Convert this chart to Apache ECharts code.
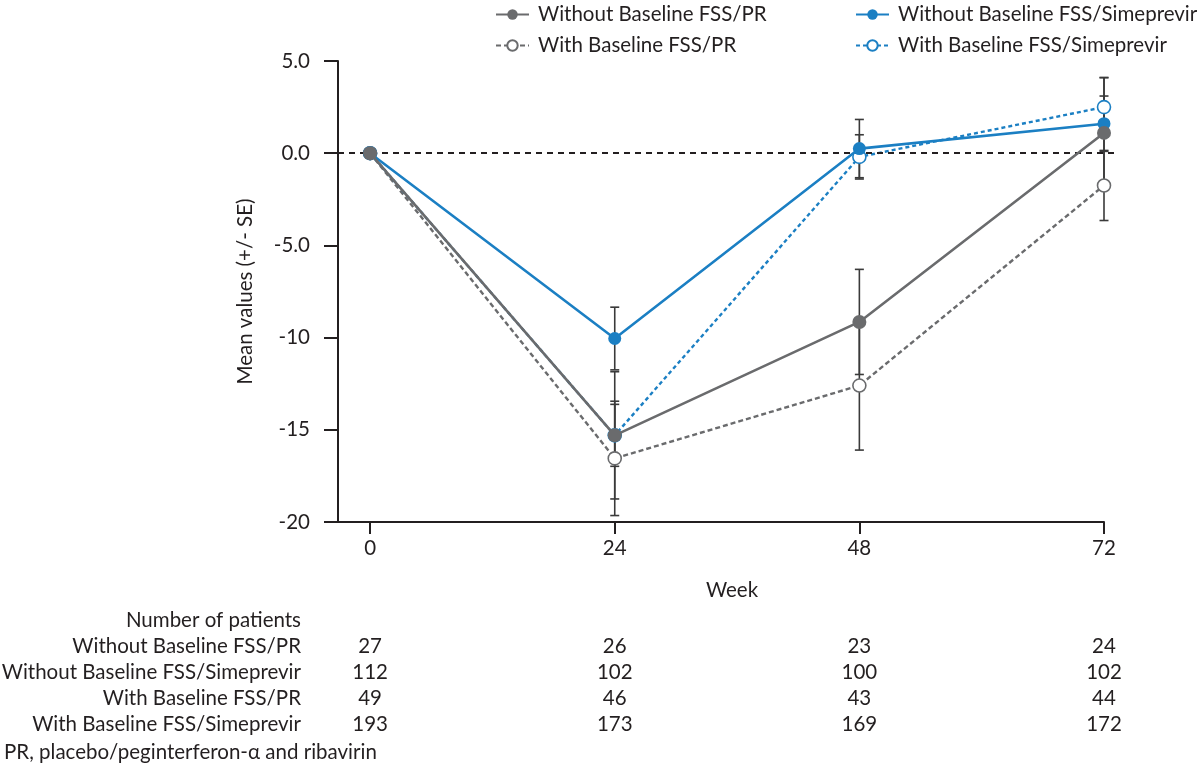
<!DOCTYPE html>
<html><head><meta charset="utf-8">
<script src="https://cdn.jsdelivr.net/npm/echarts@6/dist/echarts.min.js"></script>
<style>html,body{margin:0;padding:0;background:#fff}#c{width:1200px;height:764px}</style>
</head><body><div id="c"></div>
<script>
const FONT = 'Lato';
const FS = 20.5;
const weeks = [0, 24, 48, 72];
const tickWeeks = [0, 24, 48, 72];
const names = ['Without Baseline FSS/PR', 'With Baseline FSS/PR', 'Without Baseline FSS/Simeprevir', 'With Baseline FSS/Simeprevir'];
// means
const woPR  = [0, -15.3, -9.15, 1.1];
const wPR   = [0, -16.55, -12.6, -1.75];
const woSim = [0, -10.05, 0.25, 1.6];
const wSim  = [0, -15.3, -0.2, 2.5];
// standard errors
const woPRse  = [0, 3.45, 2.85, 3.0];
const wPRse   = [0, 3.1, 3.5, 1.9];
const woSimse = [0, 1.7, 1.58, 1.5];
const wSimse  = [0, 1.68, 1.2, 1.6];
// number of patients table
const tableTitle = 'Number of patients';
const nWoPR  = [27, 26, 23, 24];
const nWoSim = [112, 102, 100, 102];
const nWPR   = [49, 46, 43, 44];
const nWSim  = [193, 173, 169, 172];
const footnote = 'PR, placebo/peginterferon-\u03b1 and ribavirin';

const GRAY = '#6a6b6d', BLUE = '#1b7fc3', EB = '#3a3a3a';

function pts(vals){ return weeks.map((w,i)=>[w, vals[i]]); }
function ebData(vals, se){ return weeks.map((w,i)=>[w, vals[i]-se[i], vals[i]+se[i]]).filter((d,i)=>se[i]>0); }
function ebSeries(vals, se){
  return {
    type:'custom', xAxisIndex:0, yAxisIndex:0, z:1, silent:true,
    data: ebData(vals, se),
    renderItem: function(params, api){
      const x = api.value(0);
      const lo = api.coord([x, api.value(1)]);
      const hi = api.coord([x, api.value(2)]);
      const hw = 4.5;
      const st = {stroke: EB, lineWidth: 1.6, fill: null};
      return {type:'group', children:[
        {type:'line', shape:{x1:lo[0], y1:lo[1], x2:hi[0], y2:hi[1]}, style:st},
        {type:'line', shape:{x1:lo[0]-hw, y1:lo[1], x2:lo[0]+hw, y2:lo[1]}, style:st},
        {type:'line', shape:{x1:hi[0]-hw, y1:hi[1], x2:hi[0]+hw, y2:hi[1]}, style:st}
      ]};
    }
  };
}

const chart = echarts.init(document.getElementById('c'), null, {renderer:'canvas'});
const txt = {fontFamily: FONT, fontSize: FS, color: '#231f20'};
const ltxt = {fontFamily: FONT, fontSize: FS, color: '#231f20', padding:[0,0,0,4]};
const option = {
  animation:false,
  textStyle:{fontFamily:FONT},
  grid:[
    {left:338, top:61, right:96, bottom:242, containLabel:false},
    {left:338, top:61, right:82, bottom:242, containLabel:false}
  ],
  legend:[
    {orient:'vertical', left:495, top:4, padding:0, itemWidth:33, itemHeight:13, itemGap:10,
     data:[names[0], names[1]], textStyle:ltxt},
    {orient:'vertical', left:855, top:4, padding:0, itemWidth:33, itemHeight:13, itemGap:10,
     data:[names[2], names[3]], textStyle:ltxt}
  ],
  xAxis:[
    {type:'value', gridIndex:0, min:-3.15, max:72,
     name:'Week', nameLocation:'middle', nameGap:58,
     nameTextStyle:Object.assign({}, txt, {padding:[0,0,0,22]}),
     axisLine:{show:true, onZero:false, lineStyle:{color:'#231f20', width:2}},
     axisTick:{show:true, length:12, inside:false, customValues:tickWeeks, lineStyle:{color:'#231f20', width:2}},
     axisLabel:Object.assign({show:true, margin:16, customValues:tickWeeks}, txt),
     splitLine:{show:false}},
    {type:'value', gridIndex:1, min:0, max:1, show:false}
  ],
  yAxis:[
    {type:'value', gridIndex:0, min:-20, max:5, interval:5,
     name:'Mean values (+/- SE)', nameLocation:'middle', nameGap:82, nameRotate:90,
     nameTextStyle:txt,
     axisLine:{show:true, onZero:false, lineStyle:{color:'#231f20', width:2}},
     axisTick:{show:true, length:14, lineStyle:{color:'#231f20', width:2}},
     axisLabel:Object.assign({margin:28, formatter:v=> Math.abs(v)<10 ? v.toFixed(1) : String(v)}, txt),
     splitLine:{show:false}},
    {type:'value', gridIndex:1, min:-20, max:5, show:false}
  ],
  series:[
    {type:'line', xAxisIndex:1, yAxisIndex:1, data:[], silent:true, z:0,
     markLine:{silent:true, symbol:'none', label:{show:false},
       lineStyle:{color:'#231f20', type:[6,5], width:1.8},
       data:[{yAxis:0}]}},
    ebSeries(woPR, woPRse), ebSeries(wPR, wPRse), ebSeries(woSim, woSimse), ebSeries(wSim, wSimse),
    {name:names[1], type:'line', data:pts(wPR), z:3, symbol:'circle', symbolSize:13,
     lineStyle:{color:GRAY, width:2.4, type:[5,3]}, itemStyle:{color:'#fff', borderColor:GRAY, borderWidth:1.6}},
    {name:names[3], type:'line', data:pts(wSim), z:4, symbol:'circle', symbolSize:13,
     lineStyle:{color:BLUE, width:2.4, type:[4,3]}, itemStyle:{color:'#fff', borderColor:BLUE, borderWidth:1.6}},
    {name:names[2], type:'line', data:pts(woSim), z:5, symbol:'circle', symbolSize:13,
     lineStyle:{color:BLUE, width:2.6}, itemStyle:{color:BLUE}},
    {name:names[0], type:'line', data:pts(woPR), z:6, symbol:'circle', symbolSize:14,
     lineStyle:{color:GRAY, width:2.6}, itemStyle:{color:GRAY}}
  ]
};
chart.setOption(option);

// table below the chart, columns aligned through the x axis scale
const rows = [[names[0], nWoPR], [names[2], nWoSim], [names[1], nWPR], [names[3], nWSim]];
const g = [];
const labelRight = 301;
const y0 = 620, dy = 26;
const font = FS + 'px ' + FONT;
g.push({type:'text', x:labelRight, y:y0, style:{text:tableTitle, align:'right', verticalAlign:'middle', font:font, fill:'#231f20'}});
rows.forEach((r, i) => {
  const y = y0 + dy*(i+1);
  g.push({type:'text', x:labelRight, y:y, style:{text:r[0], align:'right', verticalAlign:'middle', font:font, fill:'#231f20'}});
  weeks.forEach((w, j) => {
    const px = chart.convertToPixel({xAxisIndex:0}, w);
    g.push({type:'text', x:px, y:y, style:{text:String(r[1][j]), align:'center', verticalAlign:'middle', font:font, fill:'#231f20'}});
  });
});
g.push({type:'text', x:4, y:y0 + dy*5 + 2, style:{text:footnote, align:'left', verticalAlign:'middle', font:font, fill:'#231f20'}});
chart.setOption({graphic:g});
</script></body></html>
